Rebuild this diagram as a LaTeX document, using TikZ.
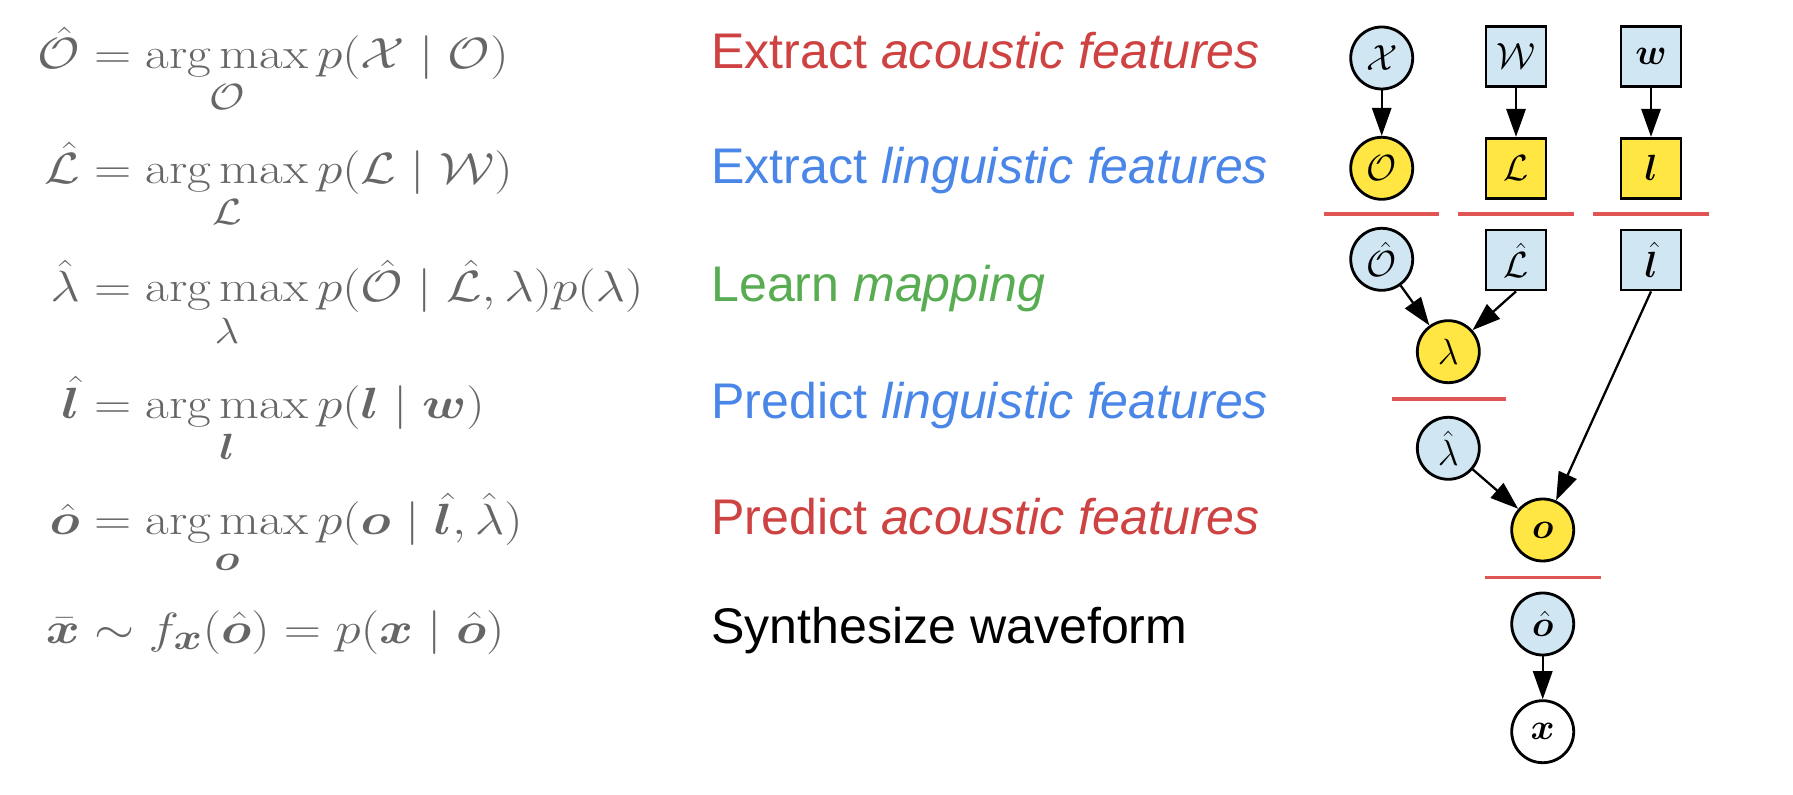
\documentclass[tikz,border=0pt]{standalone}
\usepackage{amsmath}
\usepackage{mathtools}
\usepackage{fontspec}
\usepackage{bm}
\usepackage{tikz}
\usetikzlibrary{arrows.meta}

\newfontfamily\slidefont{Liberation Sans}
\DeclareMathOperator*{\argmax}{arg\,max}
% the slide shows its formulas wider than set
\newcommand{\wideeq}[1]{\scalebox{1.18}[1]{$\displaystyle #1$}}

\definecolor{eqgray}{RGB}{102,102,102}
\definecolor{acred}{RGB}{206,66,66}
\definecolor{lingblue}{RGB}{74,134,232}
\definecolor{mapgreen}{RGB}{88,172,82}
\definecolor{nodeblue}{RGB}{208,230,243}
\definecolor{nodeyellow}{RGB}{255,230,66}
\definecolor{sepred}{RGB}{224,84,84}

\begin{document}
\begin{tikzpicture}[
    eq/.style={anchor=base west, inner sep=0pt, text=eqgray, font=\fontsize{24.88}{30}\selectfont},
    task/.style={anchor=base west, inner sep=0pt, font=\slidefont\fontsize{28.5}{34}\selectfont},
    var/.style={circle, draw, line width=1.6pt, minimum size=1.24cm, inner sep=0pt, font=\fontsize{20.74}{24}\selectfont},
    obs/.style={rectangle, draw, line width=1.6pt, minimum size=1.2cm, inner sep=0pt, font=\fontsize{20.74}{24}\selectfont},
    given/.style={fill=nodeblue},
    latent/.style={fill=nodeyellow},
    arr/.style={-{Triangle[length=16pt,width=11pt]}, line width=1.3pt},
    sep/.style={sepred, line width=1.9pt}
]
\useasboundingbox (0,0) rectangle (35.86,15.88);

% equations
\node[eq] (eqO) at (1.59,14.514) {\wideeq{\mathllap{\hat{\mathcal{O}}} = \argmax_{\mathcal{O}} p(\mathcal{X} \mid \mathcal{O})}};
\node[eq] (eqL) at (1.59,12.214) {\wideeq{\mathllap{\hat{\mathcal{L}}} = \argmax_{\mathcal{L}} p(\mathcal{L} \mid \mathcal{W})}};
\node[eq] (eqlam) at (1.59,9.846) {\wideeq{\mathllap{\hat{\lambda}} = \argmax_{\lambda} p(\hat{\mathcal{O}} \mid \hat{\mathcal{L}}, \lambda) p(\lambda)}};
\node[eq] (eql) at (1.59,7.514) {\wideeq{\mathllap{\hat{\bm{l}}} = \argmax_{\bm{l}} p(\bm{l} \mid \bm{w})}};
\node[eq] (eqo) at (1.59,5.18) {\wideeq{\mathllap{\hat{\bm{o}}} = \argmax_{\bm{o}} p(\bm{o} \mid \hat{\bm{l}}, \hat{\lambda})}};
\node[eq] (eqx) at (1.59,3.014) {\wideeq{\mathllap{\bar{\bm{x}}} \sim f_{\bm{x}}(\hat{\bm{o}}) = p(\bm{x} \mid \hat{\bm{o}})}};

% what each step does
\node[task, text=acred] (t1) at (14.22,14.514) {Extract \textit{acoustic features}};
\node[task, text=lingblue] (t2) at (14.22,12.214) {Extract \textit{linguistic features}};
\node[task, text=mapgreen] (t3) at (14.22,9.846) {Learn \textit{mapping}};
\node[task, text=lingblue] (t4) at (14.22,7.514) {Predict \textit{linguistic features}};
\node[task, text=acred] (t5) at (14.22,5.18) {Predict \textit{acoustic features}};
\node[task, text=black] (t6) at (14.22,3.014) {Synthesize waveform};

% graph
\node[var, given] (X) at (27.634,14.72) {$\mathcal{X}$};
\node[obs, given] (W) at (30.32,14.75) {$\mathcal{W}$};
\node[obs, given] (w) at (33.02,14.75) {$\bm{w}$};
\node[var, latent] (O) at (27.634,12.514) {$\mathcal{O}$};
\node[obs, latent] (L) at (30.32,12.514) {$\mathcal{L}$};
\node[obs, latent] (l) at (33.02,12.514) {$\bm{l}$};

\foreach \x in {27.634,30.32,33.02}
    \draw[sep] (\x-1.155,11.6) -- (\x+1.155,11.6);

\node[var, given] (Ohat) at (27.634,10.694) {$\hat{\mathcal{O}}$};
\node[obs, given] (Lhat) at (30.32,10.68) {$\hat{\mathcal{L}}$};
\node[obs, given] (lhat) at (33.02,10.68) {$\hat{\bm{l}}$};
\node[var, latent] (lam) at (28.966,8.846) {$\lambda$};
\draw[sep] (27.83,7.9) -- (30.12,7.9);
\node[var, given] (lamhat) at (28.966,6.914) {$\hat{\lambda}$};
\node[var, latent] (o) at (30.854,5.28) {$\bm{o}$};
\draw[sep] (29.7,4.334) -- (32.02,4.334);
\node[var, given] (ohat) at (30.854,3.4) {$\hat{\bm{o}}$};
\node[var] (x) at (30.854,1.246) {$\bm{x}$};

\draw[arr] (X) -- (O);
\draw[arr] (W) -- (L);
\draw[arr] (w) -- (l);
\draw[arr] (Ohat) -- (lam);
\draw[arr] (Lhat.south) -- (lam);
\draw[arr] (lhat.south) -- (o);
\draw[arr] (lamhat) -- (o);
\draw[arr] (ohat) -- (x);
\end{tikzpicture}
\end{document}
